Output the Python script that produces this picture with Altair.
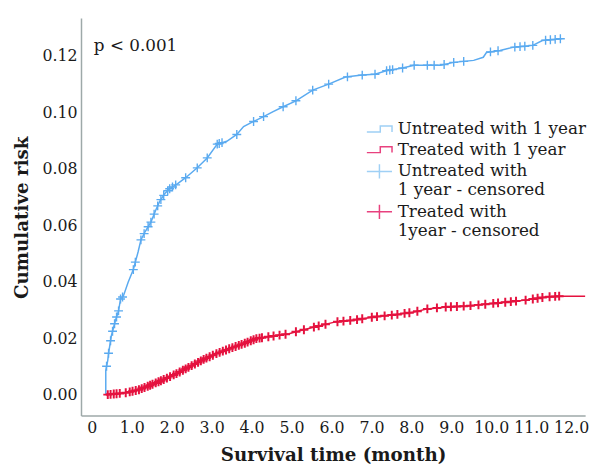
import altair as alt
import numpy as np
import pandas as pd

# Cumulative risk curves (time in months, risk)
untreated_t = [0.35, 0.35, 0.40, 0.42, 0.49, 0.59, 0.67, 0.72, 0.79, 0.91, 1.04, 1.16, 1.23, 1.33,
               1.48, 1.60, 1.70, 1.83, 1.95, 2.15, 2.35, 2.64, 2.89, 3.14, 3.38, 3.63, 3.80, 4.05,
               4.30, 4.54, 4.79, 5.11, 5.53, 5.93, 6.35, 6.77, 7.09, 7.41, 7.75, 8.07, 8.74, 9.06,
               9.56, 9.80, 9.88, 10.22, 10.54, 11.04, 11.28, 11.78]
untreated_risk = [0.0000, 0.0087, 0.0122, 0.0147, 0.0209, 0.0262, 0.0297, 0.0339, 0.0349, 0.0398,
                  0.0443, 0.0506, 0.0548, 0.0576, 0.0611, 0.0653, 0.0684, 0.0712, 0.0729, 0.0747,
                  0.0768, 0.0803, 0.0838, 0.0887, 0.0897, 0.0921, 0.0949, 0.0967, 0.0984, 0.1002,
                  0.1019, 0.1040, 0.1078, 0.1099, 0.1124, 0.1131, 0.1134, 0.1148, 0.1155, 0.1166,
                  0.1166, 0.1176, 0.1183, 0.1194, 0.1211, 0.1218, 0.1229, 0.1236, 0.1253, 0.1260]

treated_t = [0.35, 0.84, 1.16, 1.48, 1.83, 2.15, 2.47, 2.81, 3.14, 3.46, 3.80, 4.12, 4.44, 4.94,
             5.11, 5.60, 6.10, 6.59, 7.09, 7.58, 8.07, 8.40, 8.89, 9.38, 9.88, 10.37, 10.86, 11.36,
             11.70, 12.35]
treated_risk = [0.0000, 0.0007, 0.0017, 0.0035, 0.0056, 0.0077, 0.0101, 0.0126, 0.0147, 0.0164,
                0.0181, 0.0199, 0.0206, 0.0216, 0.0223, 0.0241, 0.0258, 0.0265, 0.0276, 0.0283,
                0.0293, 0.0304, 0.0311, 0.0314, 0.0321, 0.0328, 0.0335, 0.0346, 0.0349, 0.0349]

# Censoring times
untreated_censor_t = [0.37, 0.42, 0.47, 0.52, 0.57, 0.62, 0.67, 0.72, 0.77, 1.04, 1.09, 1.23, 1.31,
                      1.41, 1.48, 1.56, 1.65, 1.73, 1.80, 1.90, 1.95, 2.02, 2.10, 2.35, 2.64, 2.89,
                      3.14, 3.19, 3.26, 3.63, 4.05, 4.30, 4.79, 5.11, 5.53, 5.93, 6.40, 6.77, 7.09,
                      7.38, 7.46, 7.53, 7.78, 8.07, 8.40, 8.57, 8.82, 9.06, 9.31, 9.98, 10.17,
                      10.59, 10.72, 10.84, 11.04, 11.36, 11.48, 11.60, 11.73]
treated_censor_t = [0.40, 0.47, 0.55, 0.62, 0.70, 0.85, 0.95, 1.02, 1.10, 1.18, 1.25, 1.32, 1.40,
                    1.46, 1.52, 1.60, 1.67, 1.73, 1.80, 1.88, 1.96, 2.05, 2.12, 2.20, 2.28, 2.35,
                    2.42, 2.50, 2.58, 2.66, 2.73, 2.80, 2.87, 2.95, 3.03, 3.12, 3.20, 3.28, 3.36,
                    3.44, 3.52, 3.60, 3.68, 3.75, 3.83, 3.90, 3.98, 4.05, 4.12, 4.20, 4.26, 4.42,
                    4.55, 4.70, 4.85, 5.11, 5.31, 5.56, 5.68, 5.85, 6.15, 6.30, 6.47, 6.64, 6.77,
                    7.01, 7.14, 7.33, 7.51, 7.65, 7.83, 7.95, 8.15, 8.40, 8.64, 8.86, 8.99, 9.14,
                    9.31, 9.48, 9.68, 9.85, 10.05, 10.17, 10.35, 10.49, 10.62, 10.86, 11.04,
                    11.16, 11.28, 11.46, 11.60, 11.70]

legend_labels = ["Untreated with 1 year", "Treated with 1 year",
                 "Untreated with|1 year - censored", "Treated with| 1year - censored"]
x_ticks = [0, 1, 2, 3, 4, 5, 6, 7, 8, 9, 10, 11, 12]
y_ticks = [0.0, 0.02, 0.04, 0.06, 0.08, 0.10, 0.12]

BLUE = "#5AAAF0"
RED = "#E5123F"
FONT = "DejaVu Serif"

un_df = pd.DataFrame({"t": untreated_t, "risk": untreated_risk})
tr_df = pd.DataFrame({"t": treated_t, "risk": treated_risk})
un_c = pd.DataFrame({"t": untreated_censor_t,
                     "risk": np.interp(untreated_censor_t, untreated_t, untreated_risk)})
tr_c = pd.DataFrame({"t": treated_censor_t,
                     "risk": np.interp(treated_censor_t, treated_t, treated_risk)})
leg_df = pd.DataFrame({"series": legend_labels})

xs = alt.Scale(domain=[-0.27, 12.35], nice=False, zero=False)
ys = alt.Scale(domain=[-0.00733, 0.1333], nice=False, zero=False)

x_enc = alt.X("t:Q", scale=xs, axis=alt.Axis(
    values=x_ticks, labelExpr="datum.value == 0 ? '0' : format(datum.value, '.1f')",
    title="Survival time (month)", titleY=46, titleBaseline="alphabetic"))
y_enc = alt.Y("risk:Q", scale=ys, axis=alt.Axis(
    values=y_ticks, format=".2f", title="Cumulative risk",
    titleX=-60, titleY=202, titleBaseline="middle", titleAlign="center", titleAngle=270))

cross = "M-1,0H1M0,-1V1"

line_un = alt.Chart(un_df).mark_line(color=BLUE, strokeWidth=1.5).encode(x=x_enc, y=y_enc)
line_tr = alt.Chart(tr_df).mark_line(color=RED, strokeWidth=1.5).encode(x=x_enc, y=y_enc)
pts_un = alt.Chart(un_c).mark_point(shape=cross, filled=False, size=81, strokeWidth=1.4,
                                    color=BLUE, opacity=1).encode(x=x_enc, y=y_enc)
pts_tr = alt.Chart(tr_c).mark_point(shape=cross, filled=False, size=81, strokeWidth=2,
                                    color=RED, opacity=1).encode(x=x_enc, y=y_enc)

step_path = "M-1.5,0.35H0.1V-0.35H1.5V0.35"
leg_cross = "M-1.5,0H1.5M0,-0.85V0.85"

legend_layer = alt.Chart(leg_df).mark_point(filled=False, opacity=0).encode(
    x=alt.value(0), y=alt.value(0),
    color=alt.Color("series:N", scale=alt.Scale(domain=legend_labels,
                    range=["#9FD0F5", "#E8417E", "#9FD0F5", "#E8417E"]),
                    legend=alt.Legend(title=None, orient="none", legendX=293, legendY=103,
                                      labelExpr="split(datum.label, '|')",
                                      labelFont=FONT, labelFontSize=17, labelColor="#1a1a1a",
                                      labelLimit=0, symbolSize=289, symbolStrokeWidth=1.5,
                                      symbolOpacity=1, labelOffset=9, rowPadding=3, padding=0)),
    shape=alt.Shape("series:N", scale=alt.Scale(domain=legend_labels,
                    range=[step_path, step_path, leg_cross, leg_cross])),
)

ptext = alt.Chart(pd.DataFrame({"label": ["p < 0.001"]})).mark_text(
    align="left", baseline="middle", font=FONT, fontSize=17, color="#1a1a1a"
).encode(x=alt.value(13), y=alt.value(28), text="label:N")

chart = alt.layer(line_un, line_tr, pts_un, pts_tr, legend_layer, ptext).properties(
    width=511, height=403, autosize=alt.AutoSizeParams(type="none"),
    padding={"left": 74, "top": 7, "right": 10, "bottom": 47},
    background="white",
).configure_view(stroke=None).configure_axis(
    grid=False, ticks=False, tickSize=0, domainColor="#9EA9A9", domainWidth=1.5,
    labelFont=FONT, labelFontSize=16, labelColor="#1a1a1a", labelPadding=4,
    titleFont=FONT, titleFontSize=18.5, titleFontWeight="bold", titleColor="#1a1a1a",
)

chart.save("out.html", embed_options={"renderer": "svg", "actions": False})
